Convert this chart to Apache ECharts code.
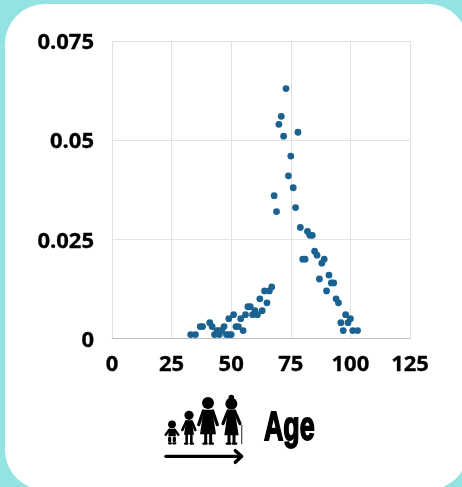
<!DOCTYPE html>
<html><head><meta charset="utf-8">
<style>html,body{margin:0;padding:0;background:#93e3e2;overflow:hidden}#c{width:462px;height:487px}</style>
<script src="https://cdn.jsdelivr.net/npm/echarts@6/dist/echarts.min.js"></script>
</head><body><div id="c"></div>
<script>
const ages = [33,35,37,38,41,42,43,44,45,45,46,47,48,49,50,49,51,52,53,55,54,56,57,58,59,60,61,63,62,65,64,66,67,
  68,69,70,71,72,73,74,75,76,77,78,79,80,81,82,83,84,85,86,87,88,89,90,91,92,93,94,95,96,97,98,99,100,101,103];
const rates = [.001,.001,.003,.003,.004,.003,.001,.002,.001,.002,.002,.003,.001,.001,.001,.005,.006,.003,.003,.002,.005,.006,.008,.008,.006,.007,.006,.007,.010,.009,.012,.012,.013,
  .036,.032,.054,.056,.051,.063,.041,.046,.038,.033,.052,.028,.020,.020,.027,.026,.026,.022,.021,.015,.019,.020,.012,.016,.014,.014,.010,.009,.004,.002,.006,.004,.005,.002,.002];
const xTicks = {min:0,max:125,interval:25};
const yTicks = {min:0,max:0.075,interval:0.025};
const axisTitle = 'Age';

const chart = echarts.init(document.getElementById('c'),null,{renderer:'canvas'});
const P = (x,y)=>[160+x/3,392+y/3];
const poly = pts=>({type:'polygon',shape:{points:pts.map(p=>P(p[0],p[1]))},style:{fill:'#000'},silent:true});
const line = (pts,w,c)=>({type:'polyline',shape:{points:pts.map(p=>P(p[0],p[1]))},style:{stroke:c||'#000',lineWidth:w,fill:null,lineCap:'round',lineJoin:'round'},silent:true});
const circ = (x,y,r)=>{const p=P(x,y);return {type:'circle',shape:{cx:p[0],cy:p[1],r:r},style:{fill:'#000'},silent:true};};
const icons = [
  // toddler
  circ(36,97,3.9),
  poly([[26,110],[46,110],[48,133],[25,133]]),
  line([[28,113],[17,128]],2.4), line([[44,113],[55,128]],2.4),
  line([[29,138],[29,146]],3.2), line([[43,138],[43,146]],3.2),
  line([[27,154],[33,154]],2.2), line([[40,154],[46,154]],2.2),
  // girl
  circ(87,70,4.6),
  poly([[79,85],[95,85],[102,128],[72,128]]),
  line([[79,88],[67,114]],2.6), line([[95,88],[106,114]],2.6),
  line([[80,128],[80,153]],2.6), line([[94,128],[94,153]],2.6),
  line([[75,155],[82,155]],2.2), line([[92,155],[99,155]],2.2),
  // woman
  circ(144,33,6),
  poly([[131,53],[157,53],[168,127],[120,127]]),
  line([[130,57],[116,98]],3.2), line([[158,57],[172,98]],3.2),
  line([[137,127],[137,152]],3), line([[152,127],[152,152]],3),
  line([[130,155],[140,155]],2.2), line([[149,155],[159,155]],2.2),
  // grandmother
  circ(214,35,6), circ(214,17,2.8),
  poly([[204,53],[224,53],[236,130],[193,130]]),
  line([[204,57],[189,95]],3.2), line([[224,57],[240,95]],3.2),
  line([[207,130],[207,152]],3), line([[222,130],[222,152]],3),
  line([[200,155],[211,155]],2.2), line([[218,155],[229,155]],2.2),
  line([[245,100],[245,155]],1.3,'#555'),
  // arrow
  line([[18,193],[243,193]],3.4), line([[226,176],[245,193],[226,211]],3.4)
].map(e=>Object.assign(e,{z:10}));

const labelFont = {color:'#000',fontFamily:'Open Sans',fontWeight:700,fontSize:22,textBorderColor:'#000',textBorderWidth:0.3};

chart.setOption({
  animation:false,
  backgroundColor:'#93e3e2',
  grid:{left:112,top:41,width:298,height:297.5,containLabel:false},
  graphic:[
    {type:'rect',z:-10,silent:true,shape:{x:5,y:4,width:463,height:486,r:40},style:{fill:'#fff'}},
    ...icons,
    {type:'text',z:10,silent:true,x:264,y:409,scaleX:0.67,originX:0,
     style:{text:axisTitle,font:'bold 40px "Liberation Sans Narrow","Liberation Sans"',fill:'#000',stroke:'#000',lineWidth:1.8,textVerticalAlign:'top'}}
  ],
  xAxis:{type:'value',min:xTicks.min,max:xTicks.max,interval:xTicks.interval,
    axisLine:{show:true,onZero:false,lineStyle:{color:'#bfbfbf',width:1}},axisTick:{show:false},
    splitLine:{show:true,lineStyle:{color:'#e2e2e2',width:1}},
    axisLabel:{margin:15,...labelFont,showMinLabel:true,showMaxLabel:true,hideOverlap:false}},
  yAxis:{type:'value',min:yTicks.min,max:yTicks.max,interval:yTicks.interval,
    axisLine:{show:false},axisTick:{show:false},
    splitLine:{show:true,lineStyle:{color:'#e2e2e2',width:1}},
    axisLabel:{margin:18,...labelFont,formatter:'{a|{value}}',rich:{a:{...labelFont,padding:[4,0,0,0]}},showMinLabel:true,showMaxLabel:true}},
  series:[{type:'scatter',data:ages.map((a,i)=>[a,rates[i]]),symbol:'circle',symbolSize:6.8,
    itemStyle:{color:'#1c6291',opacity:1},silent:true,clip:false}]
});
</script></body></html>
